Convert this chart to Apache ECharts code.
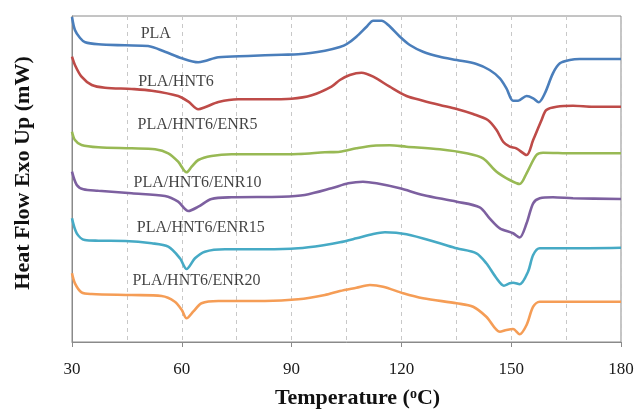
<!DOCTYPE html>
<html>
<head>
<meta charset="utf-8">
<script src="https://cdn.jsdelivr.net/npm/echarts@6/dist/echarts.min.js"></script>
<style>
html,body{margin:0;padding:0;background:#fff;}
#chart{width:638px;height:410px;}
</style>
</head>
<body>
<div id="chart"></div>
<script>
// Temperature (°C) and heat-flow offset values (arbitrary stacked units)
const plaT = [30,30.8,32.2,33.6,37.2,44.5,50.8,55.4,60.0,64.5,66.3,70.0,78.1,87.3,91.8,99.1,103.2,105.1,107.7,110.5,112.3,114.6,116.4,119.6,122.3,125.9,130.5,135.1,140.5,144.1,146.9,148.7,150.5,151.9,154.2,156.0,157.5,159.2,161.4,163.3,166.0,168.7,180];
const plaV = [325,312,304,299.7,297.7,296.7,296,290.3,283.7,279.7,281,284.7,286,287.3,287.7,291.3,295,298,305.3,315.3,321.3,321.3,317,305.3,297,290.3,285.3,282,278,272,263.7,253.7,241.3,241.3,246,243.7,239.7,248.7,268.7,278.7,282,283,283];

const hntT = [30,30.8,32.6,35.4,39.0,46.3,51.8,59.0,61.8,64.5,66.3,70.0,75.4,82.7,90.0,95.5,100.9,103.2,105.9,109.1,112.3,116.8,121.4,125.9,130.5,135.1,139.6,143.6,146.0,147.8,149.6,151.4,154.2,156.0,158.3,159.6,162.4,166.9,172.4,180];
const hntV = [285.3,277,265.3,257,254.3,253,251.3,246,240.3,232.7,234.7,240,242.7,242.7,243.3,246.7,255.3,262,267,269.3,265.3,255.3,246,241.3,237,233,228,222,212,200.3,195.3,193.7,187,202,222,232,235.3,236.3,235.3,235.3];

const enr5T = [30,30.8,32.6,37.2,46.3,52.7,56.3,59.0,61.3,62.7,64.5,68.1,73.6,82.7,91.8,99.1,103.2,107.7,112.3,116.8,121.4,130.5,137.8,142.3,146.0,149.6,152.3,154.2,156.9,158.7,166.9,180];
const enr5V = [210.3,202,197,194.7,193.7,192.7,188.7,180.3,169.7,175.3,182,186,187.7,187.7,188,189.7,190.3,193.7,196.3,196.7,195.3,192.7,188.7,183.7,170.3,162,158,168.7,187,189.3,188.7,188.7];

const enr10T = [30,31.3,33.1,37.2,46.3,55.4,59.0,61.8,64.5,68.1,73.6,87.3,93.6,100.9,105.5,109.5,113.2,119.6,125.9,135.1,141.4,144.1,146.9,150.5,152.3,154.2,156.0,157.8,161.4,166.9,180];
const enr10V = [170.3,157,152.7,151.3,148.7,146,140.3,131,135.3,143,144.7,145.3,147,153.7,158.7,160.3,158.7,153.7,147,140.3,134.7,123.7,113.7,108.7,104.5,118.7,138.7,143.7,144.7,143.7,143];

const enr15T = [30,31.3,33.5,37.2,44.5,51.8,56.3,59.5,61.3,63.6,66.3,71.8,82.7,91.8,99.1,103.2,107.7,112.3,115.5,121.4,130.5,135.1,140.5,143.2,146.0,148.0,149.6,150.5,152.3,154.6,156.0,157.8,165.1,180];
const enr15V = [123.7,108.7,102,101.3,101,98.7,95.3,83.7,73,83.7,90.3,92.7,92.7,93.7,97,99.7,103.7,108,109.7,107.7,98.7,93.7,88.7,78.7,63.7,56.3,58.7,59.3,57.7,70.3,87,93.7,93.7,94.3];

const enr20T = [30,30.8,32.6,35.4,46.3,54.5,58.1,60.0,61.3,63.1,65.4,70.0,82.7,91.8,99.1,103.2,107.7,111.4,115.0,120.5,125.9,135.1,139.6,143.2,146.9,148.7,150.5,152.3,154.2,156.0,157.8,166.9,180];
const enr20V = [68.7,58.7,49.7,48,47,46,40.3,32,23.7,30.3,38.7,41,41,42.7,47,51,54.3,57,55.3,48.7,43.7,38.7,35.3,25.3,10.3,12,13,7.7,17,35.3,40.3,40.3,40.3];

const seriesNames = ['PLA','PLA/HNT6','PLA/HNT6/ENR5','PLA/HNT6/ENR10','PLA/HNT6/ENR15','PLA/HNT6/ENR20'];
const labelT = [52.9,58.4,64.3,64.3,65.2,64.0];
const labelV = [308,260,217,159,114,61];

const xTicks = [30,60,90,120,150,180];

const colors = ['#4A7EBB','#BE4B48','#98B954','#7D60A0','#46AAC5','#F59D56'];
const allT = [plaT,hntT,enr5T,enr10T,enr15T,enr20T];
const allV = [plaV,hntV,enr5V,enr10V,enr15V,enr20V];

const chart = echarts.init(document.getElementById('chart'));
const series = seriesNames.map((n,i)=>({
  name:n, type:'line', showSymbol:false, smooth:0.3,
  lineStyle:{color:colors[i], width:2.6},
  data: allT[i].map((t,k)=>[t, allV[i][k]])
}));
series.push({
  type:'scatter', symbolSize:0, silent:true,
  data: seriesNames.map((n,i)=>({name:n, value:[labelT[i], labelV[i]]})),
  label:{show:true, position:'inside', formatter:p=>p.name, fontFamily:'Liberation Serif', fontSize:16, color:'#111'}
});

chart.setOption({
  animation:false,
  backgroundColor:'#fff',
  grid:{left:72, right:17, top:16, bottom:68, show:true, borderColor:'#8a8a8a', borderWidth:1, outerBoundsMode:'none', containLabel:false},
  xAxis:{
    type:'value', min:xTicks[0], max:xTicks[xTicks.length-1], interval:30,
    name:'Temperature ({sup|o}C)', nameLocation:'middle', nameGap:45,
    nameTextStyle:{fontFamily:'Liberation Serif', fontWeight:'bold', fontSize:22, color:'#111', padding:[0,0,0,22],
      rich:{sup:{fontFamily:'Liberation Serif', fontWeight:'bold', fontSize:14, color:'#111', padding:[0,0,9,0]}}},
    axisLine:{lineStyle:{color:'#8a8a8a', width:1}},
    axisTick:{show:true, length:5, lineStyle:{color:'#8a8a8a'}},
    axisLabel:{fontFamily:'Liberation Serif', fontSize:17, color:'#1a1a1a', margin:19},
    splitLine:{show:true, lineStyle:{color:'#c8c8c8', type:[4,4], width:1}},
    minorTick:{show:false, splitNumber:2},
    minorSplitLine:{show:true, lineStyle:{color:'#c8c8c8', type:[4,4], width:1}}
  },
  yAxis:{
    type:'value', min:0, max:326,
    name:'Heat Flow Exo Up (mW)', nameLocation:'middle', nameGap:38,
    nameTextStyle:{fontFamily:'Liberation Serif', fontWeight:'bold', fontSize:22, color:'#111', padding:[0,0,0,12]},
    axisLine:{show:true, lineStyle:{color:'#8a8a8a'}},
    axisTick:{show:false}, axisLabel:{show:false}, splitLine:{show:false}
  },
  series: series
});
</script>
</body>
</html>
